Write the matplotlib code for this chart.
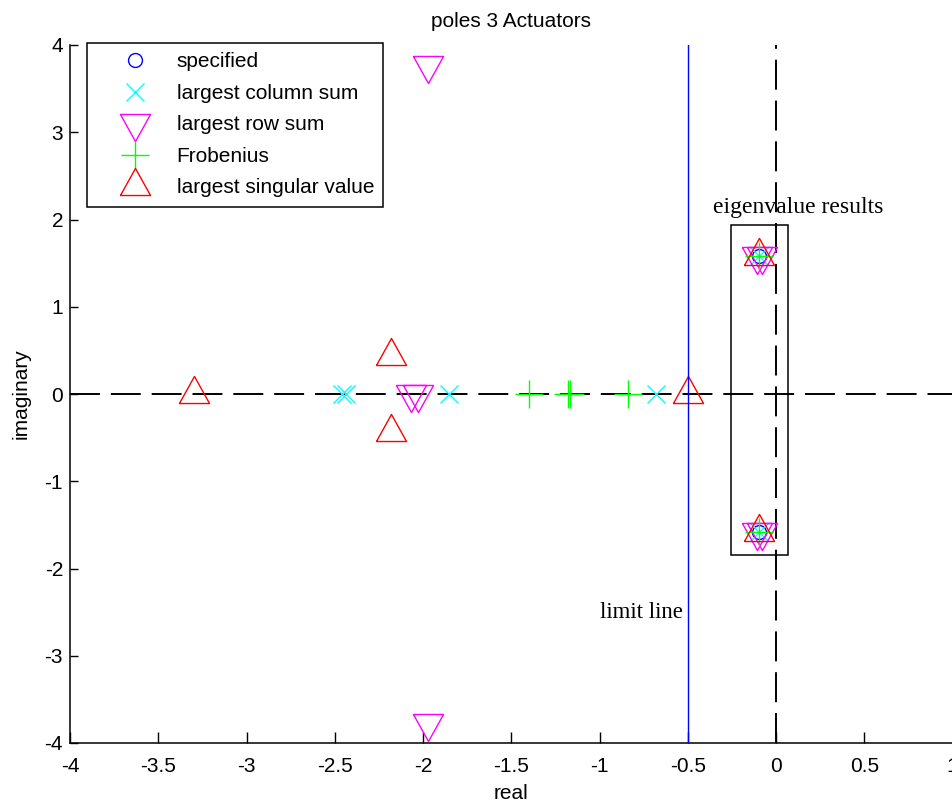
import matplotlib
matplotlib.use("Agg")
import matplotlib.pyplot as plt
from matplotlib.patches import Rectangle

# pole locations (real / imaginary parts) for each norm choice
spec_re = [-0.095, -0.095]
spec_im = [1.58, -1.58]

col_re = [-2.46, -2.435, -1.85, -0.68, -0.095, -0.095]
col_im = [0.0, 0.0, 0.0, 0.0, 1.58, -1.58]

row_re = [-1.97, -1.97, -2.07, -2.03, -0.11, -0.08, -0.11, -0.08]
row_im = [3.77, -3.77, 0.0, 0.0, 1.58, 1.58, -1.58, -1.58]

frob_re = [-1.40, -1.18, -1.165, -0.84, -0.095, -0.095]
frob_im = [0.0, 0.0, 0.0, 0.0, 1.58, -1.58]

sing_re = [-3.30, -2.18, -2.18, -0.50, -0.095, -0.095]
sing_im = [0.0, 0.44, -0.44, 0.0, 1.58, -1.58]

limit_x = -0.5
box_re = (-0.254, 0.068)
box_im = (-1.85, 1.94)

xticks = [-4, -3.5, -3, -2.5, -2, -1.5, -1, -0.5, 0, 0.5, 1]
xticklabels = ["-4", "-3.5", "-3", "-2.5", "-2", "-1.5", "-1", "-0.5", "0", "0.5", "1"]
yticks = [-4, -3, -2, -1, 0, 1, 2, 3, 4]
yticklabels = ["-4", "-3", "-2", "-1", "0", "1", "2", "3", "4"]

plt.rcParams["font.family"] = ["Liberation Sans", "DejaVu Sans"]
FS = 15

# triangle markers centred on their centroid
tri_up = [(-1, -0.6), (1, -0.6), (0, 1.2), (-1, -0.6)]
tri_dn = [(-1, 0.6), (1, 0.6), (0, -1.2), (-1, 0.6)]

fig = plt.figure(figsize=(9.52, 8.02), dpi=100)
ax = fig.add_axes([70 / 952, 59 / 802, 882.5 / 952, 698 / 802])

# axis reference lines sit beneath the markers
ax.plot([-4, 1], [0, 0], color="black", lw=1.4, dashes=(15.4, 5.6), zorder=1)
ax.plot([0, 0], [-4, 4], color="black", lw=1.4, dashes=(15.4, 5.6), zorder=1)

mk = dict(linestyle="none", markerfacecolor="none", markeredgewidth=1.0, zorder=2)
ax.plot(spec_re, spec_im, marker="o", color="blue", markersize=10, label="specified", **mk)
ax.plot(col_re, col_im, marker="x", color="cyan", markersize=13, label="largest column sum", **mk)
ax.plot(row_re, row_im, marker=tri_dn, color="magenta", markersize=26, label="largest row sum", **mk)
ax.plot(frob_re, frob_im, marker="+", color="lime", markersize=20, label="Frobenius", **mk)
ax.plot(sing_re, sing_im, marker=tri_up, color="red", markersize=26, label="largest singular value", **mk)

# stability limit and the box around the closed-loop eigenvalues
ax.plot([limit_x, limit_x], [-4, 4], color="blue", lw=1.0, zorder=3)
ax.add_patch(Rectangle((box_re[0], box_im[0]), box_re[1] - box_re[0], box_im[1] - box_im[0],
                       fill=False, edgecolor="black", lw=1.1, zorder=3))

ax.text(-0.357, 2.14, "eigenvalue results", family="Liberation Serif", fontsize=17,
        ha="left", va="center")
ax.text(-0.997, -2.51, "limit line", family="Liberation Serif", fontsize=16.5,
        ha="left", va="center")

ax.set_xlim(-4, 1)
ax.set_ylim(-4, 4)
ax.set_xticks(xticks)
ax.set_xticklabels(xticklabels)
ax.set_yticks(yticks)
ax.set_yticklabels(yticklabels)
ax.tick_params(axis="both", direction="in", labelsize=FS, width=1.0, color="black")
ax.tick_params(axis="x", length=8, pad=10)
ax.tick_params(axis="y", length=6, pad=5)
for side in ("top", "right"):
    ax.spines[side].set_visible(False)
for side in ("left", "bottom"):
    ax.spines[side].set_linewidth(1.1)

ax.set_xlabel("real", fontsize=FS, labelpad=6)
ax.set_ylabel("imaginary", fontsize=FS, labelpad=10)
ax.set_title("poles 3 Actuators", fontsize=FS, pad=13)

leg = ax.legend(loc="upper left", bbox_to_anchor=(87 / 952, 1 - 43 / 802),
                bbox_transform=fig.transFigure, borderaxespad=0, fontsize=FS,
                numpoints=1, handlelength=3.7, handletextpad=0.15, labelspacing=0.6,
                borderpad=0.45, fancybox=False, framealpha=1, edgecolor="black")
leg.get_frame().set_linewidth(1.1)

fig.savefig("out.png", dpi=100)
